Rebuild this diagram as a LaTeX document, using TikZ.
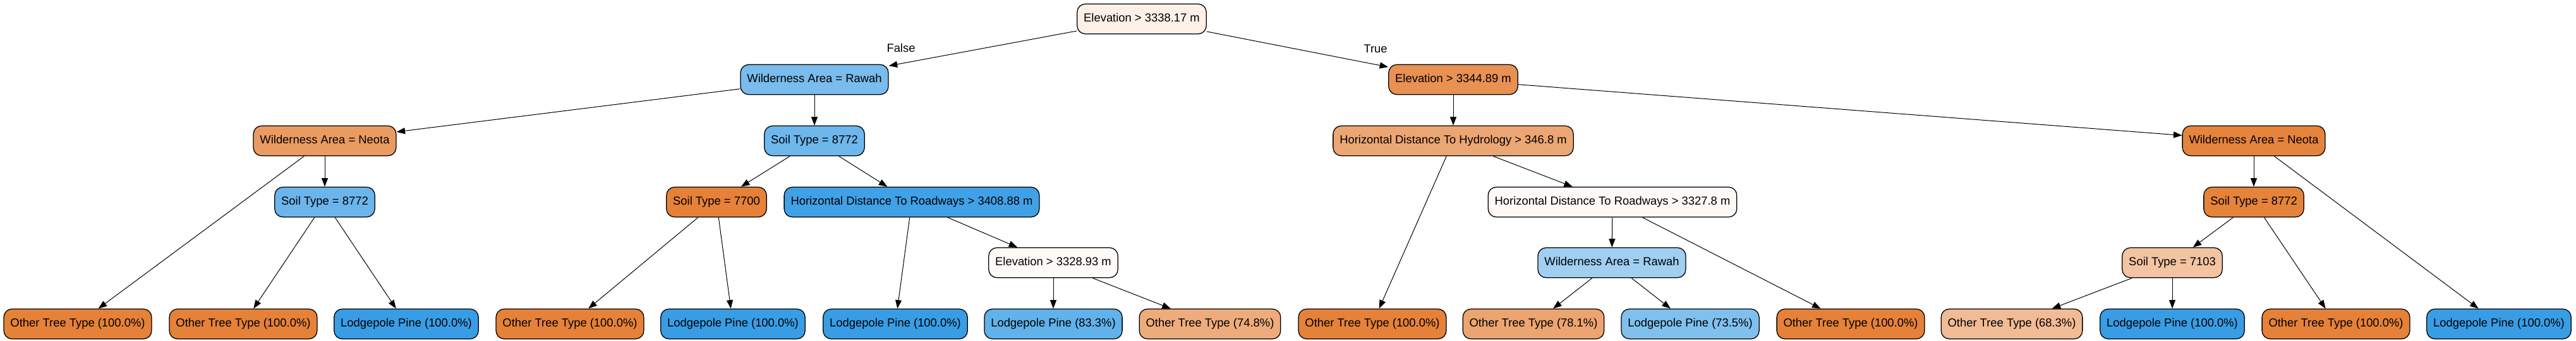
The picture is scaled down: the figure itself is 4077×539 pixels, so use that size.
\documentclass[tikz,border=0pt]{standalone}
\usepackage{fontspec}
\setmainfont{Liberation Sans}
\usetikzlibrary{arrows.meta}
\definecolor{cRoot}{HTML}{FCF0E7}
\definecolor{cLa}{HTML}{79BCED}
\definecolor{cLb}{HTML}{E89152}
\definecolor{cNeoA}{HTML}{EA9B62}
\definecolor{cSoilB}{HTML}{6DB7EC}
\definecolor{cSoilA}{HTML}{6BB5EC}
\definecolor{cOrg}{HTML}{E58139}
\definecolor{cBlu}{HTML}{399DE5}
\definecolor{cRoadA}{HTML}{41A1E6}
\definecolor{cElevB}{HTML}{FEFAF7}
\definecolor{cHyd}{HTML}{ECA673}
\definecolor{cRoadB}{HTML}{FEF9F6}
\definecolor{cRawB}{HTML}{A0CFF2}
\definecolor{cNeoB}{HTML}{E5843D}
\definecolor{cSoilE}{HTML}{E5833B}
\definecolor{cSoilC}{HTML}{F2C4A2}
\definecolor{cP833}{HTML}{61B1EA}
\definecolor{cP748}{HTML}{EEAC7C}
\definecolor{cP781}{HTML}{ECA470}
\definecolor{cP735}{HTML}{80C0EE}
\definecolor{cP683}{HTML}{F1BB95}
\begin{document}
\begin{tikzpicture}[x=1pt,y=-1pt,
  tnode/.style={draw=black, line width=1.3pt, rounded corners=13pt,
    minimum height=47.4pt, inner xsep=10.4pt, inner ysep=0pt,
    font=\fontsize{18.4}{22}\selectfont, text height=13.3pt, text depth=3.6pt},
  conn/.style={draw=black, line width=1pt, -{Triangle[length=13.5pt,width=10pt]}},
  elabel/.style={font=\fontsize{18.4}{22}\selectfont, inner sep=0pt}]
\useasboundingbox[fill=white] (0,0) rectangle (4077,539);
% level 0
\node[tnode, fill=cRoot] (root) at (1807,30) {Elevation > 3338.17 m};
% level 1
\node[tnode, fill=cLa] (la) at (1289,126) {Wilderness Area = Rawah};
\node[tnode, fill=cLb] (lb) at (2300,126) {Elevation > 3344.89 m};
% level 2
\node[tnode, fill=cNeoA] (neoa) at (514,223) {Wilderness Area = Neota};
\node[tnode, fill=cSoilB] (soilb) at (1289,223) {Soil Type = 8772};
\node[tnode, fill=cHyd] (hyd) at (2300,223) {Horizontal Distance To Hydrology > 346.8 m};
\node[tnode, fill=cNeoB] (neob) at (3567,223) {Wilderness Area = Neota};
% level 3
\node[tnode, fill=cSoilA] (soila) at (514,320) {Soil Type = 8772};
\node[tnode, fill=cOrg] (soil77) at (1134,320) {Soil Type = 7700};
\node[tnode, fill=cRoadA] (roada) at (1443,320) {Horizontal Distance To Roadways > 3408.88 m};
\node[tnode, fill=cRoadB] (roadb) at (2552,320) {Horizontal Distance To Roadways > 3327.8 m};
\node[tnode, fill=cSoilE] (soile) at (3567,320) {Soil Type = 8772};
% level 4
\node[tnode, fill=cElevB] (elevb) at (1667,416) {Elevation > 3328.93 m};
\node[tnode, fill=cRawB] (rawb) at (2551,416) {Wilderness Area = Rawah};
\node[tnode, fill=cSoilC] (soilc) at (3438,416) {Soil Type = 7103};
% leaves
\node[tnode, fill=cOrg] (f1) at (123,513) {Other Tree Type (100.0\%)};
\node[tnode, fill=cOrg] (f2) at (385,513) {Other Tree Type (100.0\%)};
\node[tnode, fill=cBlu] (f3) at (643,513) {Lodgepole Pine (100.0\%)};
\node[tnode, fill=cOrg] (f4) at (902,513) {Other Tree Type (100.0\%)};
\node[tnode, fill=cBlu] (f5) at (1160,513) {Lodgepole Pine (100.0\%)};
\node[tnode, fill=cBlu] (f6) at (1417,513) {Lodgepole Pine (100.0\%)};
\node[tnode, fill=cP833] (f7) at (1667,513) {Lodgepole Pine (83.3\%)};
\node[tnode, fill=cP748] (f8) at (1915,513) {Other Tree Type (74.8\%)};
\node[tnode, fill=cOrg] (f9) at (2172,513) {Other Tree Type (100.0\%)};
\node[tnode, fill=cP781] (f10) at (2427,513) {Other Tree Type (78.1\%)};
\node[tnode, fill=cP735] (f11) at (2675,513) {Lodgepole Pine (73.5\%)};
\node[tnode, fill=cOrg] (f12) at (2929,513) {Other Tree Type (100.0\%)};
\node[tnode, fill=cP683] (f13) at (3184,513) {Other Tree Type (68.3\%)};
\node[tnode, fill=cBlu] (f14) at (3438,513) {Lodgepole Pine (100.0\%)};
\node[tnode, fill=cOrg] (f15) at (3697,513) {Other Tree Type (100.0\%)};
\node[tnode, fill=cBlu] (f16) at (3955,513) {Lodgepole Pine (100.0\%)};
% edge labels
\node[elabel] (lfalse) at (1426,76) {False};
\node[elabel] (ltrue) at (2177,77) {True};
% edges
\draw[conn] (root) -- (la);
\draw[conn] (root) -- (lb);
\draw[conn] (la) -- (neoa);
\draw[conn] (la) -- (soilb);
\draw[conn] (neoa) -- (f1);
\draw[conn] (neoa) -- (soila);
\draw[conn] (soila) -- (f2);
\draw[conn] (soila) -- (f3);
\draw[conn] (soilb) -- (soil77);
\draw[conn] (soilb) -- (roada);
\draw[conn] (soil77) -- (f4);
\draw[conn] (soil77) -- (f5);
\draw[conn] (roada) -- (f6);
\draw[conn] (roada) -- (elevb);
\draw[conn] (elevb) -- (f7);
\draw[conn] (elevb) -- (f8);
\draw[conn] (lb) -- (hyd);
\draw[conn] (lb) -- (neob);
\draw[conn] (hyd) -- (f9);
\draw[conn] (hyd) -- (roadb);
\draw[conn] (roadb) -- (rawb);
\draw[conn] (roadb) -- (f12);
\draw[conn] (rawb) -- (f10);
\draw[conn] (rawb) -- (f11);
\draw[conn] (neob) -- (soile);
\draw[conn] (neob) -- (f16);
\draw[conn] (soile) -- (soilc);
\draw[conn] (soile) -- (f15);
\draw[conn] (soilc) -- (f13);
\draw[conn] (soilc) -- (f14);
\end{tikzpicture}
\end{document}
